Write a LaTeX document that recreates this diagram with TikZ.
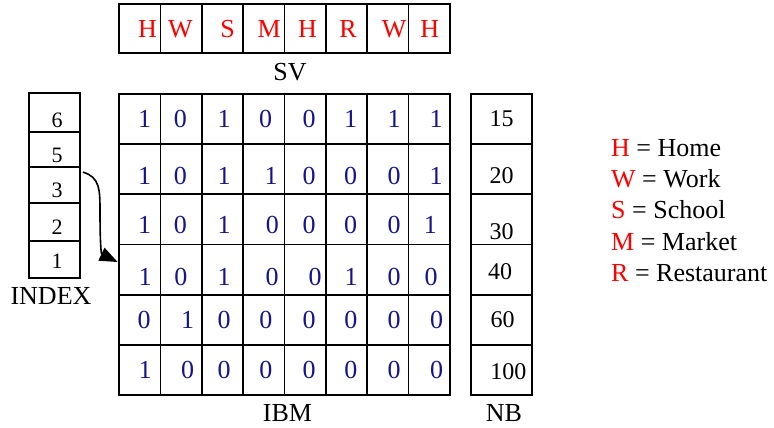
\documentclass[tikz,border=0pt]{standalone}
\usepackage{fontspec}
\setmainfont{Liberation Serif}
\usetikzlibrary{arrows.meta}
\definecolor{digitblue}{RGB}{20,20,140}
\definecolor{letterred}{RGB}{255,0,0}
\begin{document}
\begin{tikzpicture}[x=1pt,y=-1pt,
  cellbox/.style={draw,line width=1.7pt,inner sep=0pt},
  bigtxt/.style={inner sep=0pt,font=\fontsize{26}{30}\selectfont},
  digit/.style={bigtxt,text=digitblue},
  letter/.style={bigtxt,text=letterred},
  idxtxt/.style={inner sep=0pt,font=\fontsize{22}{26}\selectfont},
  nbtxt/.style={inner sep=0pt,font=\fontsize{24}{28}\selectfont},
  legend/.style={inner sep=0pt,anchor=base west,font=\fontsize{26}{30}\selectfont}]
\useasboundingbox (0,0) rectangle (774,428);
% SV row
\foreach \c in {1,...,8}{
  \pgfmathsetmacro\cx{119+41.375*(\c-0.5)}
  \node[cellbox,minimum width=41.375pt,minimum height=49pt] (sv\c) at (\cx,28.5) {};
}
\foreach \x/\t [count=\i] in {147.5/H,180.5/W,227.5/S,269.2/M,307.5/H,348/R,394.2/W,429.8/H}{
  \node[letter] (svt\i) at (\x,29) {\t};
}
\node[bigtxt] (svlabel) at (290,72.5) {SV};
% IBM grid
\foreach \r in {1,...,6}{
  \foreach \c in {1,...,8}{
    \pgfmathsetmacro\cx{119+41.375*(\c-0.5)}
    \pgfmathsetmacro\cy{94+50.17*(\r-0.5)}
    \node[cellbox,minimum width=41.375pt,minimum height=50.17pt] (ibm\r\c) at (\cx,\cy) {};
  }
}
\foreach \r/\y/\vals in {
  1/119.3/{144.7/1,180.3/0,224/1,265.7/0,309/0,350.7/1,394/1,436/1},
  2/176/{144.7/1,180.3/0,224/1,271/1,309/0,350.7/0,394/0,436/1},
  3/225/{144.7/1,180.3/0,224/1,272.3/0,309/0,350.7/0,394/0,430.3/1},
  4/276.7/{145/1,180.8/0,224/1,272/0,315.2/0,351/1,394/0,431/0},
  5/320/{144/0,187.7/1,224/0,265.8/0,309/0,350.8/0,394/0,436.7/0},
  6/370/{145/1,187.7/0,224/0,265.8/0,309/0,350.8/0,394/0,436.7/0}}{
  \foreach \x/\v [count=\c] in \vals{
    \node[digit] (d\r\c) at (\x,\y) {\v};
  }
}
\node[bigtxt] (ibmlabel) at (287.5,413) {IBM};
% INDEX column
\foreach \t/\ya/\yb/\ty [count=\i] in {6/93/132/120,5/132/167/155,3/167/203/190,2/203/241/227,1/241/278/261}{
  \pgfmathsetmacro\cy{(\ya+\yb)/2}
  \pgfmathsetmacro\hh{\yb-\ya}
  \node[cellbox,minimum width=51pt,minimum height=\hh pt] (idx\t) at (54.5,\cy) {};
  \node[idxtxt] (idxt\t) at (57,\ty) {\t};
}
\node[bigtxt] (idxlabel) at (51,296) {INDEX};
% NB column
\foreach \r in {1,...,6}{
  \pgfmathsetmacro\cy{94+50.17*(\r-0.5)}
  \node[cellbox,minimum width=61pt,minimum height=50.17pt] (nb\r) at (501.5,\cy) {};
}
\foreach \x/\y/\t [count=\i] in {501.7/119/15,501.7/175.5/20,501.7/231.7/30,500/271.6/40,502.7/319.5/60,508.3/371.7/100}{
  \node[nbtxt] (nbt\i) at (\x,\y) {\t};
}
\node[bigtxt] (nblabel) at (504,413) {NB};
% arrow
\coordinate (arrS) at ([xshift=2pt,yshift=-6pt]idx3.north east);
\coordinate (arrE) at ([xshift=-0.5pt,yshift=7.6pt]ibm41.west);
\draw[line width=1.6pt,-{Triangle[length=18pt,width=14pt]}] (arrS) .. controls (100,177) and (100,190) .. (100,212) .. controls (100,240) and (101,254) .. (arrE);
% legend
\node[legend] (lg1) at (611,156) {\textcolor{letterred}{H} = Home};
\node[legend] (lg2) at (611,187) {\textcolor{letterred}{W} = Work};
\node[legend] (lg3) at (611,218) {\textcolor{letterred}{S} = School};
\node[legend] (lg4) at (611,250) {\textcolor{letterred}{M} = Market};
\node[legend] (lg5) at (611,281.5) {\textcolor{letterred}{R} = Restaurant};
\end{tikzpicture}
\end{document}
